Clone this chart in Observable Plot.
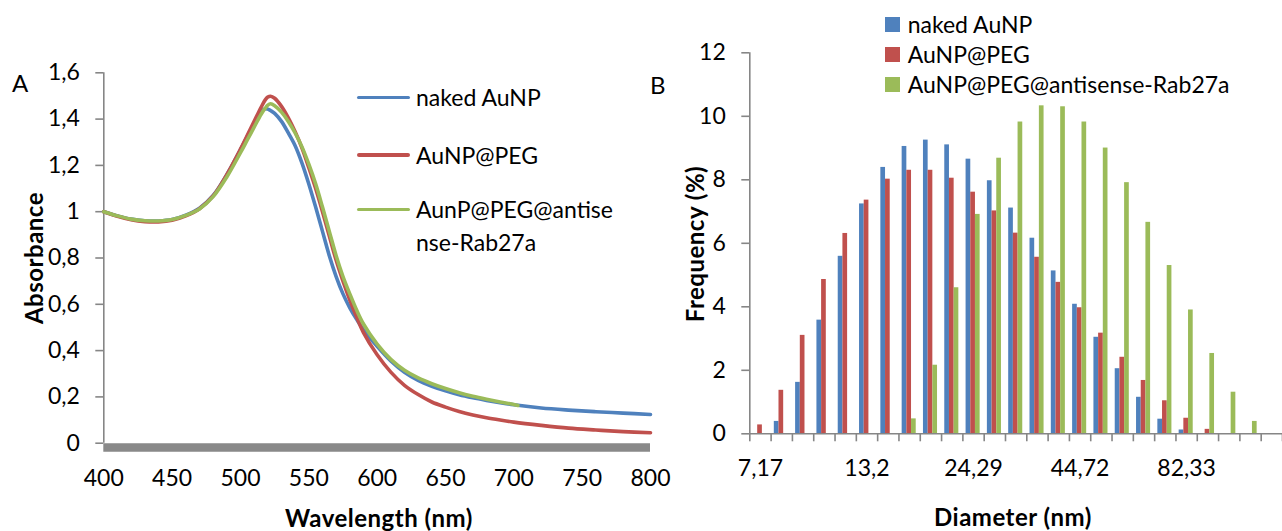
<!DOCTYPE html>
<html>
<head>
<meta charset="utf-8">
<script src="https://cdn.jsdelivr.net/npm/d3@7"></script>
<script src="https://cdn.jsdelivr.net/npm/@observablehq/plot@0.6"></script>
<style>
  html, body { margin: 0; padding: 0; background: #fff; }
  #fig { position: relative; width: 1282px; height: 531px; overflow: hidden; font-family: Lato, "Open Sans", sans-serif; color: #000; }
  #fig svg { position: absolute; top: 0; overflow: visible; }
  .t { position: absolute; white-space: nowrap; line-height: 1; }
  .title { font-weight: bold; font-size: 24px; letter-spacing: 0.5px; }
  .leg { font-size: 23px; }
  .panel { font-size: 24px; }
  .swatch { position: absolute; }
</style>
</head>
<body>
<div id="fig"></div>
<script>
// ---------- Panel A: UV-Vis absorbance spectra ----------
const wavelength = [400, 410, 420, 430, 440, 450, 460, 470, 480, 490, 500, 505, 510, 515, 518, 520, 522, 525, 530, 535, 540, 545, 550, 555, 560, 565, 570, 575, 580, 585, 590, 600, 610, 620, 630, 640, 650, 660, 670, 680, 690, 700, 720, 740, 760, 780, 800];
const absNaked = [1.000, 0.982, 0.968, 0.961, 0.960, 0.966, 0.985, 1.015, 1.070, 1.160, 1.268, 1.325, 1.380, 1.432, 1.445, 1.443, 1.437, 1.425, 1.390, 1.340, 1.285, 1.210, 1.120, 1.020, 0.915, 0.810, 0.720, 0.645, 0.585, 0.535, 0.490, 0.418, 0.355, 0.306, 0.271, 0.246, 0.226, 0.209, 0.196, 0.185, 0.175, 0.166, 0.152, 0.143, 0.136, 0.130, 0.124];
const absPeg = [1.000, 0.980, 0.965, 0.957, 0.956, 0.963, 0.982, 1.013, 1.068, 1.160, 1.270, 1.330, 1.390, 1.450, 1.482, 1.495, 1.499, 1.490, 1.455, 1.405, 1.345, 1.275, 1.190, 1.100, 1.000, 0.895, 0.790, 0.700, 0.618, 0.545, 0.478, 0.382, 0.307, 0.250, 0.210, 0.178, 0.156, 0.137, 0.122, 0.110, 0.100, 0.091, 0.077, 0.065, 0.057, 0.050, 0.045];
// the antisense-conjugate spectrum was recorded up to ~703 nm only
const wavelengthAntisense = [400, 410, 420, 430, 440, 450, 460, 470, 480, 490, 500, 505, 510, 515, 518, 520, 522, 525, 530, 535, 540, 545, 550, 555, 560, 565, 570, 575, 580, 585, 590, 600, 610, 620, 630, 640, 650, 660, 670, 680, 690, 700, 703];
const absAntisense = [1.000, 0.982, 0.968, 0.961, 0.960, 0.966, 0.984, 1.012, 1.065, 1.150, 1.255, 1.310, 1.365, 1.420, 1.446, 1.460, 1.466, 1.458, 1.430, 1.390, 1.340, 1.280, 1.205, 1.120, 1.020, 0.915, 0.810, 0.720, 0.645, 0.575, 0.515, 0.428, 0.362, 0.315, 0.282, 0.257, 0.236, 0.218, 0.203, 0.190, 0.178, 0.167, 0.163];
const wlTicks = [400, 450, 500, 550, 600, 650, 700, 750, 800];
const absTicks = [0, 0.2, 0.4, 0.6, 0.8, 1, 1.2, 1.4, 1.6];

// ---------- Panel B: DLS size distribution ----------
const diameters = ["7,17", "8,1", "9,15", "10,34", "11,68", "13,2", "14,91", "16,85", "19,04", "21,51", "24,29", "27,44", "31", "35,03", "39,58", "44,72", "50,53", "57,09", "64,5", "72,88", "82,33", "93,02", "105,1", "118,7", "134,2"];
const shownDiameters = ["7,17", "13,2", "24,29", "44,72", "82,33"];
const freqNaked = [0, 0.39, 1.62, 3.58, 5.59, 7.24, 8.39, 9.05, 9.25, 9.10, 8.65, 7.97, 7.11, 6.16, 5.13, 4.08, 3.04, 2.05, 1.15, 0.46, 0.12, 0, 0, 0, 0];
const freqPeg = [0.28, 1.37, 3.10, 4.86, 6.31, 7.36, 8.02, 8.30, 8.30, 8.05, 7.61, 7.02, 6.32, 5.56, 4.77, 3.97, 3.17, 2.41, 1.68, 1.04, 0.49, 0.14, 0, 0, 0];
const freqAntisense = [0, 0, 0, 0, 0, 0, 0, 0.47, 2.16, 4.60, 6.91, 8.68, 9.82, 10.33, 10.30, 9.82, 9.00, 7.91, 6.66, 5.30, 3.90, 2.53, 1.31, 0.39, 0];
const freqTicks = [0, 2, 4, 6, 8, 10, 12];

const seriesA = ["naked AuNP", "AuNP@PEG", "AunP@PEG@antisense-Rab27a"];
const seriesB = ["naked AuNP", "AuNP@PEG", "AuNP@PEG@antisense-Rab27a"];
const colors = ["#4F81BD", "#C0504D", "#9BBB59"];
const axisGray = "#868686";
const tickFont = 23;

const comma = d => String(d).replace(".", ",");
const fig = document.getElementById("fig");

// ----- spectra -----
const toRows = (xs, ys) => xs.map((x, i) => ({x, y: ys[i]}));
const spectra = [
  toRows(wavelength, absNaked),
  toRows(wavelength, absPeg),
  toRows(wavelengthAntisense, absAntisense)
];

const plotA = Plot.plot({
  width: 680,
  height: 531,
  marginLeft: 103.3,
  marginRight: 30,
  marginTop: 72.3,
  marginBottom: 88.3,
  style: {fontFamily: "Lato, 'Open Sans', sans-serif", fontSize: tickFont + "px", color: "#000", background: "transparent"},
  x: {domain: [400, 800]},
  y: {domain: [0, 1.6]},
  marks: [
    Plot.ruleY([0], {stroke: "#898989", strokeWidth: 8.5, dy: 4.2}),
    Plot.ruleX([400], {stroke: axisGray, strokeWidth: 1.6}),
    Plot.axisY({ticks: absTicks, tickFormat: comma, tickSize: 8, tickPadding: 16, stroke: axisGray, strokeWidth: 1.6, fill: "#000", fontSize: tickFont, label: null}),
    Plot.axisX({ticks: wlTicks, tickSize: 0, tickPadding: 26, fill: "#000", fontSize: tickFont, label: null}),
    ...spectra.map((rows, k) => Plot.line(rows, {x: "x", y: "y", stroke: colors[k], strokeWidth: 3.6, curve: "catmull-rom"}))
  ]
});
plotA.style.left = "0px";
fig.appendChild(plotA);

// ----- size distribution -----
const freqs = [freqNaked, freqPeg, freqAntisense];
const bars = [];
freqs.forEach((vals, k) => vals.forEach((v, i) => bars.push({i, k, v})));
const barStart = 0.15, barWidth = 0.22;

const plotB = Plot.plot({
  width: 602,
  height: 531,
  marginLeft: 69.3,
  marginRight: 0,
  marginTop: 52.3,
  marginBottom: 97.7,
  style: {fontFamily: "Lato, 'Open Sans', sans-serif", fontSize: tickFont + "px", color: "#000", background: "transparent"},
  x: {domain: [0, diameters.length]},
  y: {domain: [0, 12]},
  marks: [
    Plot.rect(bars, {
      x1: d => d.i + barStart + d.k * barWidth,
      x2: d => d.i + barStart + (d.k + 1) * barWidth,
      y1: 0,
      y2: "v",
      fill: d => colors[d.k]
    }),
    Plot.ruleX([0], {stroke: axisGray, strokeWidth: 1.6}),
    Plot.ruleY([0], {stroke: axisGray, strokeWidth: 1.6}),
    Plot.axisY({ticks: freqTicks, tickSize: 8, tickPadding: 16, stroke: axisGray, strokeWidth: 1.6, fill: "#000", fontSize: tickFont, label: null}),
    Plot.axisX({ticks: d3.range(diameters.length + 1), tickSize: 8, tickFormat: () => "", stroke: axisGray, strokeWidth: 1.6, label: null}),
    Plot.axisX({
      ticks: shownDiameters.map(s => diameters.indexOf(s) + 0.5),
      tickFormat: t => diameters[Math.floor(t)],
      tickSize: 0, tickPadding: 26, fill: "#000", fontSize: tickFont, label: null
    })
  ]
});
plotB.style.left = "680px";
fig.appendChild(plotB);

// ----- text overlays: titles, panel letters, legends -----
function addText(txt, cls) {
  const el = document.createElement("div");
  el.className = "t " + cls;
  el.textContent = txt;
  fig.appendChild(el);
  return el;
}
function centerAt(el, cx, cy, rotate = 0) {
  const w = el.offsetWidth, h = el.offsetHeight;
  el.style.left = (cx - w / 2) + "px";
  el.style.top = (cy - h / 2) + "px";
  if (rotate) el.style.transform = `rotate(${rotate}deg)`;
}

centerAt(addText("Wavelength (nm)", "title"), 379, 518);
centerAt(addText("Absorbance", "title"), 34, 258, -90);
centerAt(addText("Diameter (nm)", "title"), 1013, 517);
centerAt(addText("Frequency (%)", "title"), 695, 244, -90);
centerAt(addText("A", "panel"), 20, 83);
centerAt(addText("B", "panel"), 658, 85);

// legend of panel A (line keys)
const legA = [
  {lineY: 97.7, lines: [seriesA[0]]},
  {lineY: 155, lines: [seriesA[1]]},
  {lineY: 209.3, lines: ["AunP@PEG@antise", "nse-Rab27a"]}
];
legA.forEach((item, k) => {
  const sw = document.createElement("div");
  sw.className = "swatch";
  Object.assign(sw.style, {left: "356.7px", top: (item.lineY - 1.8) + "px", width: "53.3px", height: "3.6px", background: colors[k], borderRadius: "2px"});
  fig.appendChild(sw);
  item.lines.forEach((line, j) => {
    const el = addText(line, "leg");
    el.style.left = "416px";
    el.style.top = (item.lineY + j * 33 - el.offsetHeight / 2) + "px";
  });
});

// legend of panel B (square keys)
seriesB.forEach((name, k) => {
  const y = 24.5 + k * 30;
  const sw = document.createElement("div");
  sw.className = "swatch";
  Object.assign(sw.style, {left: "885px", top: (y - 7.5) + "px", width: "15px", height: "15px", background: colors[k]});
  fig.appendChild(sw);
  const el = addText(name, "leg");
  el.style.left = "907.7px";
  el.style.top = (y - el.offsetHeight / 2) + "px";
});
</script>
</body>
</html>
